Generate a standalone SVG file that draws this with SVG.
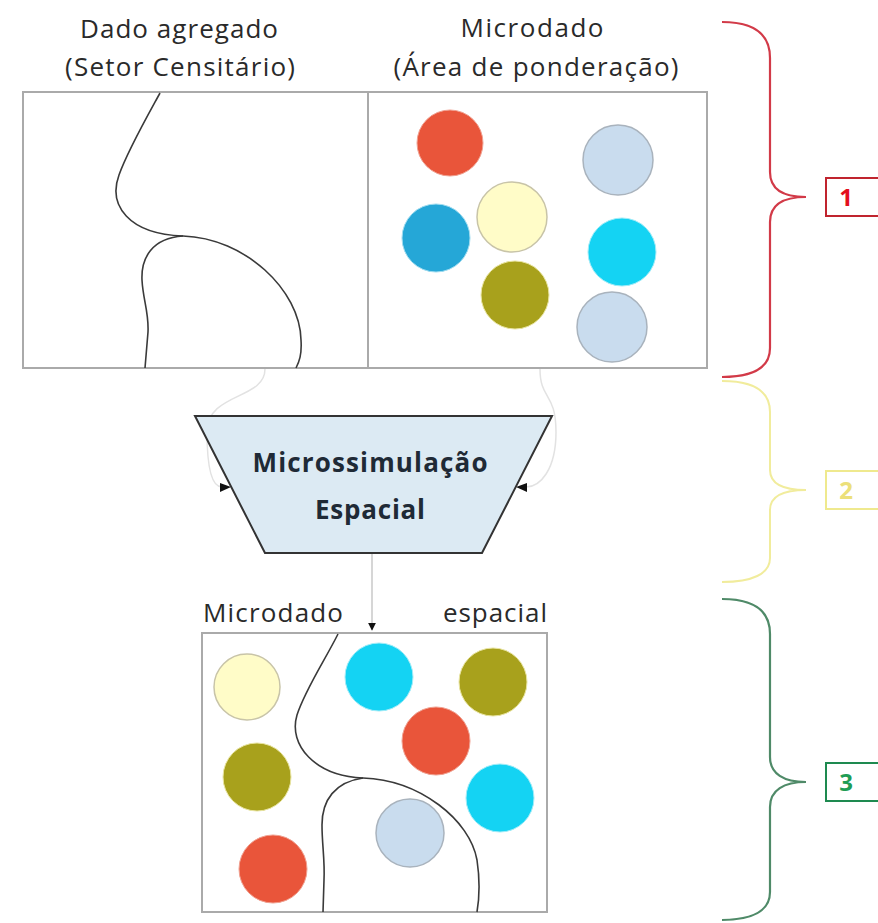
<svg xmlns="http://www.w3.org/2000/svg" width="878" height="923" viewBox="0 0 878 923">
<defs>
<style>
.lbl{font-family:"Open Sans","Liberation Sans",sans-serif;font-size:26px;fill:#2a2a2a}
.bold{font-family:"Open Sans","Liberation Sans",sans-serif;font-size:26px;font-weight:bold;fill:#1f2a36}
.frame{fill:#ffffff;stroke:#aaaaaa;stroke-width:2}
.curve{fill:none;stroke:#3a3a3a;stroke-width:1.6}
.c-red{fill:#e9553a;stroke:#f0a090;stroke-width:1}
.c-lb{fill:#c9dcee;stroke:#a9b3bd;stroke-width:1.5}
.c-ly{fill:#fffcc8;stroke:#c8c4a8;stroke-width:1.5}
.c-blue{fill:#25a7d7;stroke:#9fdcf0;stroke-width:1}
.c-cyan{fill:#14d3f3;stroke:#a0ecf8;stroke-width:1}
.c-olive{fill:#a8a11c;stroke:#e8e4a0;stroke-width:1}
.faint{fill:none;stroke:#e2e2e2;stroke-width:1.5}
.num{font-family:"Open Sans","Liberation Sans",sans-serif;font-size:24px;font-weight:bold;text-anchor:middle}
</style>
<marker id="ah" viewBox="0 0 10 10" refX="9" refY="5" markerWidth="8" markerHeight="8" orient="auto" markerUnits="userSpaceOnUse">
<path d="M0,0 L10,5 L0,10 z" fill="#111"/>
</marker>
</defs>

<g id="title-left">
<text class="lbl" x="179" y="38" text-anchor="middle" textLength="198" lengthAdjust="spacing">Dado agregado</text>
<text class="lbl" x="180" y="76" text-anchor="middle" textLength="230" lengthAdjust="spacing">(Setor Censitário)</text>
</g>
<g id="title-right">
<text class="lbl" x="532" y="37" text-anchor="middle" textLength="143" lengthAdjust="spacing">Microdado</text>
<text class="lbl" x="536" y="76" text-anchor="middle" textLength="285" lengthAdjust="spacing">(Área de ponderação)</text>
</g>

<g id="top-panel">
<rect class="frame" x="23" y="92" width="684" height="276"/>
<line x1="368" y1="92" x2="368" y2="368" stroke="#aaaaaa" stroke-width="2"/>
<path class="curve" d="M160,93 C148,115 128,150 119,175 C108,205 128,234 183,236 C245,238 300,290 301,340 C302,355 299,362 296,368"/>
<path class="curve" d="M183,236 C152,238 141,258 142,280 C143,300 149,312 148,332 L145,368"/>
<circle class="c-red" cx="450" cy="143" r="33"/>
<circle class="c-lb" cx="618" cy="160" r="35"/>
<circle class="c-ly" cx="512" cy="217" r="35"/>
<circle class="c-blue" cx="436" cy="238" r="34"/>
<circle class="c-cyan" cx="622" cy="252" r="34"/>
<circle class="c-olive" cx="515" cy="295" r="34"/>
<circle class="c-lb" cx="612" cy="327" r="35"/>
</g>

<g id="connectors">
<path class="faint" d="M265,369 C265,400 207,392 207,432 C207,470 212,487 222,487"/>
<path class="faint" d="M540,369 C540,400 556,392 556,432 C556,470 540,487 526,487"/>
<path d="M220,483 L231,487 L220,492 z" fill="#111"/>
<path d="M527,483 L516,487 L527,492 z" fill="#111"/>
<line x1="372" y1="553" x2="372" y2="630" stroke="#c8c8c8" stroke-width="1.5" marker-end="url(#ah)"/>
</g>

<g id="microsimulacao">
<path d="M195,416 L552,416 L482,553 L265,553 z" fill="#dceaf3" stroke="#333333" stroke-width="2"/>
<text class="bold" x="370" y="472" text-anchor="middle" textLength="235" lengthAdjust="spacing">Microssimulação</text>
<text class="bold" x="370" y="519" text-anchor="middle" textLength="110" lengthAdjust="spacing">Espacial</text>
</g>

<g id="bottom-panel">
<text class="lbl" x="203" y="622" textLength="140" lengthAdjust="spacing">Microdado</text>
<text class="lbl" x="547" y="622" text-anchor="end" textLength="104" lengthAdjust="spacing">espacial</text>
<rect class="frame" x="202" y="633" width="345" height="279"/>
<path class="curve" d="M338,634 C325,660 305,690 297,715 C288,745 315,776 363,778 C420,780 470,820 477,860 C480,880 479,900 477,912"/>
<path class="curve" d="M363,778 C335,782 322,800 322,825 C322,845 325,860 324,880 L323,912"/>
<circle class="c-ly" cx="247" cy="687" r="33"/>
<circle class="c-cyan" cx="379" cy="677" r="34"/>
<circle class="c-olive" cx="493" cy="682" r="34"/>
<circle class="c-red" cx="436" cy="741" r="34"/>
<circle class="c-olive" cx="257" cy="777" r="34"/>
<circle class="c-cyan" cx="500" cy="798" r="34"/>
<circle class="c-lb" cx="410" cy="833" r="34"/>
<circle class="c-red" cx="273" cy="869" r="34"/>
</g>

<g id="stage-1">
<path d="M722,22 C752,22 770,32 770,58 L770,172 C770,190 784,197 806,197 C784,197 770,204 770,222 L770,348 C770,368 752,377 722,377" fill="none" stroke="#d23a48" stroke-width="2.2"/>
<rect x="826" y="178" width="70" height="38" fill="#ffffff" stroke="#c0242e" stroke-width="2"/>
<text class="num" x="846" y="206" fill="#e3101c">1</text>
</g>
<g id="stage-2">
<path d="M722,381 C752,381 770,390 770,412 L770,470 C770,484 784,490 806,490 C784,490 770,496 770,510 L770,558 C770,574 752,582 722,582" fill="none" stroke="#f1ec9c" stroke-width="2"/>
<rect x="826" y="471" width="70" height="38" fill="#ffffff" stroke="#efe98e" stroke-width="2"/>
<text class="num" x="846" y="499" fill="#ece07a">2</text>
</g>
<g id="stage-3">
<path d="M722,599 C752,599 770,609 770,634 L770,757 C770,774 784,782 806,782 C784,782 770,790 770,807 L770,892 C770,911 752,920 722,920" fill="none" stroke="#4f8a68" stroke-width="2.2"/>
<rect x="826" y="763" width="70" height="38" fill="#ffffff" stroke="#1e8a50" stroke-width="2"/>
<text class="num" x="846" y="791" fill="#1f9d55">3</text>
</g>
</svg>
